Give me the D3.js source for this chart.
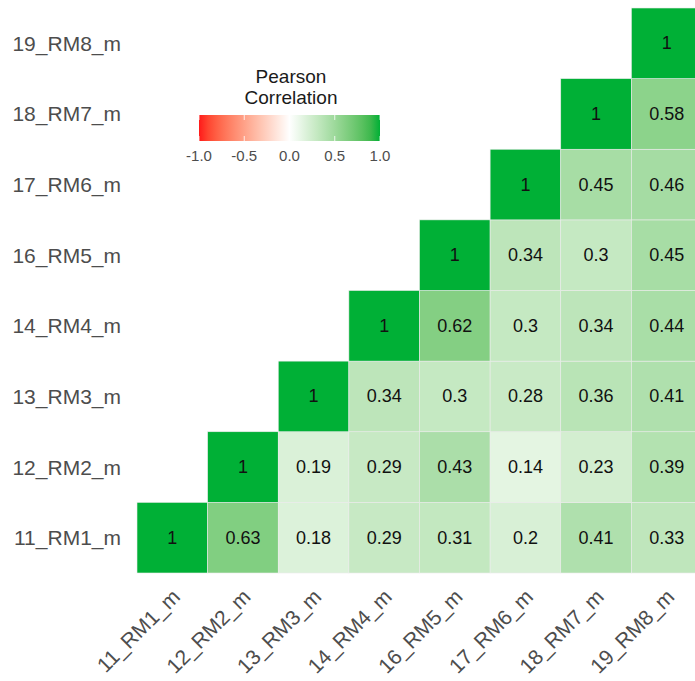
<!DOCTYPE html>
<html>
<head>
<meta charset="utf-8">
<script src="https://cdn.jsdelivr.net/npm/d3@7"></script>
<style>
  html, body { margin: 0; padding: 0; background: #fff; }
  svg { display: block; }
</style>
</head>
<body>
<script>
// Variable names (shared by both axes)
const variables = ["11_RM1_m", "12_RM2_m", "13_RM3_m", "14_RM4_m", "16_RM5_m", "17_RM6_m", "18_RM7_m", "19_RM8_m"];

// Correlation values per row (row variable vs. column variables, null = not drawn)
const row11 = [1, 0.63, 0.18, 0.29, 0.31, 0.2, 0.41, 0.33];
const row12 = [null, 1, 0.19, 0.29, 0.43, 0.14, 0.23, 0.39];
const row13 = [null, null, 1, 0.34, 0.3, 0.28, 0.36, 0.41];
const row14 = [null, null, null, 1, 0.62, 0.3, 0.34, 0.44];
const row16 = [null, null, null, null, 1, 0.34, 0.3, 0.45];
const row17 = [null, null, null, null, null, 1, 0.45, 0.46];
const row18 = [null, null, null, null, null, null, 1, 0.58];
const row19 = [null, null, null, null, null, null, null, 1];

const legendTicks = [-1, -0.5, 0, 0.5, 1];

const rows = [row11, row12, row13, row14, row16, row17, row18, row19];
const cells = [];
rows.forEach((r, i) => r.forEach((v, j) => {
  if (v !== null) cells.push({ row: variables[i], col: variables[j], value: v });
}));

const W = 695, H = 681;
const FONT = "Liberation Sans, Arial, Helvetica, sans-serif";
const svg = d3.select("body").append("svg").attr("width", W).attr("height", H);

const x = d3.scaleBand().domain(variables).range([137, 702]);
const y = d3.scaleBand().domain(variables).range([573, 8]);

const low = "#FF1A1A", mid = "#FFFFFF", high = "#00B036";
const color = d3.scaleLinear().domain([-1, 0, 1]).range([low, mid, high]).interpolate(d3.interpolateLab);

const g = svg.append("g");
g.selectAll("rect.cell").data(cells).join("rect")
  .attr("class", "cell")
  .attr("x", d => x(d.col))
  .attr("y", d => y(d.row))
  .attr("width", x.bandwidth())
  .attr("height", y.bandwidth())
  .attr("fill", d => color(d.value))
  .attr("stroke", "#ececec")
  .attr("stroke-width", 0.6);

g.selectAll("text.val").data(cells).join("text")
  .attr("class", "val")
  .attr("x", d => x(d.col) + x.bandwidth() / 2)
  .attr("y", d => y(d.row) + y.bandwidth() / 2)
  .attr("text-anchor", "middle")
  .attr("dominant-baseline", "central")
  .attr("font-family", FONT)
  .attr("font-size", 18)
  .attr("fill", "#111")
  .text(d => d3.format("")(d.value));

// Y axis labels
svg.append("g").selectAll("text").data(variables).join("text")
  .attr("x", 121)
  .attr("y", d => y(d) + y.bandwidth() / 2)
  .attr("text-anchor", "end")
  .attr("dominant-baseline", "central")
  .attr("font-family", FONT)
  .attr("font-size", 21)
  .attr("fill", "#4d4d4d")
  .text(d => d);

// X axis labels, rotated 45 degrees
svg.append("g").selectAll("text").data(variables).join("text")
  .attr("transform", d => `translate(${x(d) + x.bandwidth() / 2 + 9},${598}) rotate(-45)`)
  .attr("text-anchor", "end")
  .attr("font-family", FONT)
  .attr("font-size", 21)
  .attr("fill", "#4d4d4d")
  .text(d => d);

// Legend
const lx = d3.scaleLinear().domain([-1, 1]).range([199, 380]);
const defs = svg.append("defs");
const grad = defs.append("linearGradient").attr("id", "corrGrad");
d3.range(0, 1.0001, 0.05).forEach(t => {
  grad.append("stop").attr("offset", t).attr("stop-color", color(-1 + 2 * t));
});
const leg = svg.append("g");
leg.append("text").attr("x", 291).attr("y", 83).attr("text-anchor", "middle")
  .attr("font-family", FONT).attr("font-size", 19).attr("fill", "#1a1a1a")
  .text("Pearson");
leg.append("text").attr("x", 291).attr("y", 104).attr("text-anchor", "middle")
  .attr("font-family", FONT).attr("font-size", 19).attr("fill", "#1a1a1a")
  .text("Correlation");
leg.append("rect").attr("x", lx(-1)).attr("y", 115).attr("width", lx(1) - lx(-1)).attr("height", 26)
  .attr("fill", "url(#corrGrad)");
leg.selectAll("line.tk").data(legendTicks).join("line")
  .attr("class", "tk")
  .attr("x1", d => lx(d)).attr("x2", d => lx(d))
  .attr("y1", 115).attr("y2", 120)
  .attr("stroke", "#fff").attr("stroke-opacity", 0.8);
leg.selectAll("line.tkb").data(legendTicks).join("line")
  .attr("class", "tkb")
  .attr("x1", d => lx(d)).attr("x2", d => lx(d))
  .attr("y1", 136).attr("y2", 141)
  .attr("stroke", "#fff").attr("stroke-opacity", 0.8);
leg.selectAll("text.tl").data(legendTicks).join("text")
  .attr("class", "tl")
  .attr("x", d => lx(d)).attr("y", 161)
  .attr("text-anchor", "middle")
  .attr("font-family", FONT).attr("font-size", 15).attr("fill", "#4d4d4d")
  .text(d => d3.format(".1f")(d).replace("−", "-"));
</script>
</body>
</html>
